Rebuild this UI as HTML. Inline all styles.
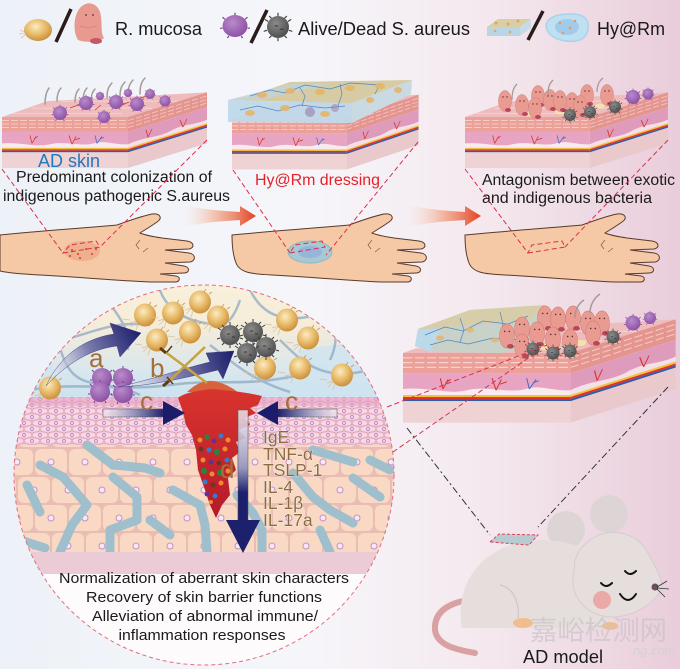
<!DOCTYPE html>
<html><head><meta charset="utf-8"><style>
html,body{margin:0;padding:0;background:#fff;}
svg{display:block;font-family:"Liberation Sans","Noto Sans CJK SC",sans-serif;}
</style></head><body>
<svg width="680" height="669" viewBox="0 0 680 669" xmlns="http://www.w3.org/2000/svg">
<defs>
<linearGradient id="bg" x1="0" y1="0" x2="1" y2="0">
<stop offset="0" stop-color="#edf2f8"/><stop offset="0.45" stop-color="#f6f6fa"/><stop offset="0.72" stop-color="#f4e8ee"/><stop offset="1" stop-color="#e9cdda"/></linearGradient>
<radialGradient id="gold" cx="0.42" cy="0.35" r="0.7"><stop offset="0" stop-color="#fcebc0"/><stop offset="0.55" stop-color="#e6b865"/><stop offset="1" stop-color="#c58837"/></radialGradient>
<radialGradient id="purp" cx="0.4" cy="0.35" r="0.7"><stop offset="0" stop-color="#b98bcb"/><stop offset="1" stop-color="#8a4ea2"/></radialGradient>
<radialGradient id="grayg" cx="0.4" cy="0.35" r="0.7"><stop offset="0" stop-color="#8c8c8c"/><stop offset="1" stop-color="#4a4a4a"/></radialGradient>
<linearGradient id="redArr" x1="0" y1="0" x2="1" y2="0"><stop offset="0" stop-color="#f8d9cc" stop-opacity="0"/><stop offset="0.5" stop-color="#f09a78" stop-opacity="0.7"/><stop offset="1" stop-color="#e2401f"/></linearGradient>
<linearGradient id="navL" x1="0" y1="0" x2="1" y2="0"><stop offset="0" stop-color="#f4f0f6" stop-opacity="0.7"/><stop offset="0.55" stop-color="#8a8ab4"/><stop offset="1" stop-color="#1b1d6a"/></linearGradient>
<linearGradient id="navR" x1="1" y1="0" x2="0" y2="0"><stop offset="0" stop-color="#f4f0f6" stop-opacity="0.7"/><stop offset="0.55" stop-color="#8a8ab4"/><stop offset="1" stop-color="#1b1d6a"/></linearGradient>
<linearGradient id="navV" gradientUnits="userSpaceOnUse" x1="0" y1="410" x2="0" y2="525"><stop offset="0" stop-color="#f1eef4" stop-opacity="0.8"/><stop offset="0.5" stop-color="#9a9abf"/><stop offset="0.72" stop-color="#1d206c"/><stop offset="1" stop-color="#1d206c"/></linearGradient>
<linearGradient id="gA" gradientUnits="userSpaceOnUse" x1="46" y1="386" x2="141" y2="333"><stop offset="0" stop-color="#ffffff" stop-opacity="0.3"/><stop offset="0.5" stop-color="#7c7caf"/><stop offset="1" stop-color="#1b1d6a"/></linearGradient>
<linearGradient id="gB" gradientUnits="userSpaceOnUse" x1="118" y1="387" x2="234" y2="351"><stop offset="0" stop-color="#ffffff" stop-opacity="0.3"/><stop offset="0.5" stop-color="#7c7caf"/><stop offset="1" stop-color="#1b1d6a"/></linearGradient>
<linearGradient id="cTop" gradientUnits="userSpaceOnUse" x1="0" y1="285" x2="0" y2="400"><stop offset="0" stop-color="#f9f0dc"/><stop offset="0.35" stop-color="#f5ecd9"/><stop offset="0.75" stop-color="#d9e7ee"/><stop offset="1" stop-color="#cbe1ef"/></linearGradient>
<linearGradient id="wound" x1="0" y1="0" x2="0" y2="1"><stop offset="0" stop-color="#d8342e"/><stop offset="1" stop-color="#b51a2a"/></linearGradient>
<pattern id="epi" width="16" height="12" patternUnits="userSpaceOnUse">
<rect width="16" height="12" fill="#e6afc4"/>
<ellipse cx="8" cy="3" rx="7.3" ry="2.7" fill="#f7d9e4"/>
<ellipse cx="0" cy="9" rx="7.3" ry="2.7" fill="#f7d9e4"/>
<ellipse cx="16" cy="9" rx="7.3" ry="2.7" fill="#f7d9e4"/>
<circle cx="8" cy="3" r="1.5" fill="none" stroke="#ad78bf" stroke-width="0.7"/>
<circle cx="0" cy="9" r="1.5" fill="none" stroke="#ad78bf" stroke-width="0.7"/>
<circle cx="16" cy="9" r="1.5" fill="none" stroke="#ad78bf" stroke-width="0.7"/>
</pattern>
<pattern id="big" width="34" height="56" patternUnits="userSpaceOnUse">
<rect width="34" height="56" fill="#e9bdb3"/>
<rect x="1" y="1" width="32" height="26" rx="6" fill="#f9d8c4"/>
<rect x="-16" y="29" width="32" height="26" rx="6" fill="#f9d8c4"/>
<rect x="18" y="29" width="32" height="26" rx="6" fill="#f9d8c4"/>
<circle cx="17" cy="14" r="3" fill="#f7e8f2" stroke="#c38fc9" stroke-width="1"/>
<circle cx="0" cy="42" r="3" fill="#f7e8f2" stroke="#c38fc9" stroke-width="1"/>
<circle cx="34" cy="42" r="3" fill="#f7e8f2" stroke="#c38fc9" stroke-width="1"/>
</pattern>
<clipPath id="circ"><circle cx="204" cy="475" r="190"/></clipPath>

<g id="blk">
<polygon points="0,0 126,0 205,-28 45,-18" fill="#efbcbe"/>
<path d="M10,-4H120M30,-10H150M60,-18H180" stroke="#f6d3d3" stroke-width="1"/>
<rect x="0" y="0" width="126" height="58" fill="#f1d8d9"/>
<rect x="0" y="0" width="126" height="17" fill="#eba099"/>
<path d="M0,4H126M0,8H126M0,12H126" stroke="#f8d2cb" stroke-width="1" stroke-dasharray="7 2"/>
<rect x="0" y="17" width="126" height="19" fill="#f8ebef"/>
<path d="M0,17H126V31C112,32 104,26 92,30C80,34 62,27 48,31C34,35 18,28 0,30Z" fill="#e7a5c3"/>
<path d="M30,30l-2,-9m2,9l4,-8m-2,3l4,-3M70,31l-3,-10m3,10l4,-9m-1,4l5,-2" stroke="#d8342a" stroke-width="0.8" fill="none"/>
<path d="M95,30l-2,-9m2,9l5,-8m-2,3l4,-2" stroke="#4a6bc2" stroke-width="0.8" fill="none"/>
<rect y="35" width="126" height="1.7" fill="#f4c13f"/>
<rect y="36.7" width="126" height="1.7" fill="#e32f2a"/>
<rect y="38.4" width="126" height="1.7" fill="#2a5dab"/>
<rect y="40.1" width="126" height="17.9" fill="#efd2d3"/>
<g transform="translate(126,0) skewY(-19.5)">
<rect x="0" y="0" width="79" height="58" fill="#e9c9cb"/>
<rect x="0" y="0" width="79" height="17" fill="#e5958f"/>
<path d="M0,4H79M0,8H79M0,12H79" stroke="#f3c6c0" stroke-width="1" stroke-dasharray="6 2"/>
<rect x="0" y="17" width="79" height="19" fill="#f3e1e7"/>
<path d="M0,17H79V31C66,33 55,27 42,31C30,34 14,28 0,31Z" fill="#df9bbb"/>
<path d="M20,30l-2,-9m2,9l4,-8M55,31l-3,-9m3,9l4,-8" stroke="#d8342a" stroke-width="0.8" fill="none"/>
<rect y="35" width="79" height="1.7" fill="#f4c13f"/>
<rect y="36.7" width="79" height="1.7" fill="#e32f2a"/>
<rect y="38.4" width="79" height="1.7" fill="#2a5dab"/>
</g>
</g>

<g id="fig"><ellipse cx="0" cy="0" rx="6.5" ry="10.5" fill="#ea9b91" stroke="#cf7f78" stroke-width="0.5"/><circle cx="-2" cy="-4" r="0.7" fill="#5a2f2f"/><circle cx="2" cy="-4" r="0.7" fill="#5a2f2f"/><ellipse cx="3" cy="9" rx="3" ry="2" fill="#b8475a"/></g>
<g id="gb"><path d="M-9,6l-6,2m6,-1l-5,5m7,-3l-2,6m-6,-10l-7,-1" stroke="#d6c09a" stroke-width="0.7" fill="none"/><ellipse cx="0" cy="0" rx="11" ry="11.5" fill="url(#gold)"/><path d="M4,-10l2,-3m3,5l3,-2" stroke="#c89a4a" stroke-width="0.8"/></g>
<g id="gr"><circle r="10" fill="url(#grayg)"/><path d="M0,-10v-3M9,-5l3,-2M10,3l3,1M-9,-5l-3,-2M-10,3l-3,1M0,10v3M6,8l2,2M-6,8l-2,2M-6,-8l-2,-2M6,-8l2,-2" stroke="#3a3a3a" stroke-width="1"/><path d="M-3,-1h3M2,2h3" stroke="#222" stroke-width="0.8"/></g>
<g id="pu"><circle r="10" fill="url(#purp)"/><path d="M0,-10v-2M8,-6l2,-2M-8,-6l-2,-2M10,2h2M-10,2h-2M5,9l1,2M-5,9l-1,2" stroke="#7a3f90" stroke-width="1"/></g>
</defs>

<rect width="680" height="669" fill="url(#bg)"/>

<!-- LEGEND -->
<path d="M25,32l-5,-2m5,3l-6,1m6,1l-4,3" stroke="#d8c6a8" stroke-width="0.8"/>
<ellipse cx="38" cy="30" rx="14" ry="11" fill="url(#gold)"/>
<line x1="56" y1="42" x2="71" y2="9" stroke="#2b1b1b" stroke-width="3.5"/>
<path d="M78,40C72,30 74,12 82,6C88,1 97,3 100,12C103,22 100,32 104,38C100,42 85,43 78,40Z" fill="#e89a90"/>
<ellipse cx="96" cy="41" rx="6" ry="3" fill="#c4586a"/>
<circle cx="86" cy="15" r="0.9" fill="#5a3030"/><circle cx="93" cy="15" r="0.9" fill="#5a3030"/>
<path d="M80,26 q8,3 17,0" stroke="#c7776e" stroke-width="0.8" fill="none" stroke-dasharray="1.5 1"/>
<text x="115" y="35" font-size="18" fill="#1a1a1a" textLength="87" lengthAdjust="spacingAndGlyphs">R. mucosa</text>
<use href="#pu" transform="translate(235,26) scale(1.25,1.1)"/>
<line x1="251" y1="43" x2="267" y2="10" stroke="#2b1b1b" stroke-width="3.5"/>
<use href="#gr" transform="translate(278,27) scale(1.1)"/>
<text x="298" y="35" font-size="18" fill="#1a1a1a" textLength="172" lengthAdjust="spacingAndGlyphs">Alive/Dead S. aureus</text>
<polygon points="487,27 520,27 531,19 498,19" fill="#d9cfa6"/>
<polygon points="487,27 520,27 520,36 487,36" fill="#b9d6e6"/>
<polygon points="520,27 531,19 531,28 520,36" fill="#c7dbe6"/>
<circle cx="496" cy="23" r="1.5" fill="#e6a55a"/><circle cx="508" cy="24" r="1.5" fill="#e6a55a"/><circle cx="518" cy="21" r="1.5" fill="#e6a55a"/><circle cx="495" cy="31" r="1.3" fill="#e6a55a"/><circle cx="510" cy="32" r="1.3" fill="#e6a55a"/>
<line x1="528" y1="40" x2="543" y2="11" stroke="#2b1b1b" stroke-width="3.5"/>
<path d="M546,26C547,15 565,12 580,15C591,18 591,35 580,40C565,44 547,38 546,26Z" fill="#bfe0f1" stroke="#a9d3ea" stroke-width="1.5"/>
<ellipse cx="567" cy="27" rx="12" ry="8" fill="#8fbde6" opacity="0.6"/>
<circle cx="560" cy="23" r="1.2" fill="#e6955a"/><circle cx="570" cy="28" r="1.2" fill="#e6955a"/><circle cx="575" cy="21" r="1.2" fill="#e6955a"/><circle cx="563" cy="33" r="1.2" fill="#e6955a"/>
<text x="597" y="35" font-size="18" fill="#1a1a1a" textLength="68" lengthAdjust="spacingAndGlyphs">Hy@Rm</text>

<!-- BLOCK 1 -->
<use href="#blk" transform="translate(2,117) scale(1,0.88)"/>
<g stroke="#a99995" stroke-width="1.5" fill="none" stroke-linecap="round">
<path d="M45,104C45,97 46,92 49,88"/><path d="M57,101C57,95 58,91 61,88"/><path d="M75,102C75,96 76,92 79,89"/><path d="M83,101C83,95 84,91 87,88"/><path d="M91,101C91,96 92,92 95,89"/><path d="M107,98C107,91 108,87 112,83"/><path d="M120,97C120,90 121,86 125,82"/><path d="M128,96C128,89 129,84 133,80"/><path d="M140,94C140,87 141,82 145,78"/>
</g>
<g stroke="#d8342a" stroke-width="0.7" fill="none"><path d="M70,108l8,-3l6,2M120,106l9,-4M140,98l8,-2M95,110l6,-5"/></g>
<use href="#pu" transform="translate(60,113) scale(0.7)"/>
<use href="#pu" transform="translate(86,103) scale(0.7)"/>
<use href="#pu" transform="translate(104,117) scale(0.6)"/>
<use href="#pu" transform="translate(116,102) scale(0.7)"/>
<use href="#pu" transform="translate(137,104) scale(0.7)"/>
<use href="#pu" transform="translate(150,94) scale(0.5)"/>
<use href="#pu" transform="translate(165,101) scale(0.55)"/>
<use href="#pu" transform="translate(128,93) scale(0.4)"/>
<use href="#pu" transform="translate(100,96) scale(0.4)"/>

<!-- BLOCK 2 -->
<use href="#blk" transform="translate(232,119) scale(0.91,0.87)"/>
<polygon points="228,100 247,97 290,82 412,80 352,103" fill="#d6cba3"/>
<polygon points="228,100 290,84 330,84 260,100" fill="#c4d3d6" opacity="0.8"/>
<polygon points="228,100 352,103 352,123 228,122" fill="#bfd9ea" opacity="0.95"/>
<polygon points="352,103 412,80 411,94 352,123" fill="#c9dae2"/>
<g stroke="#4f86c0" stroke-width="0.7" fill="none"><path d="M250,96l20,-6l15,3l20,-8l25,4l20,-6l30,2M240,110l18,-4l20,5l22,-6l25,3l20,-2M300,88l5,8l-3,10M340,84l2,10l-4,12M380,84l-5,10"/></g>
<g fill="#e6b56a" opacity="0.9"><ellipse cx="262" cy="95" rx="5" ry="3"/><ellipse cx="290" cy="91" rx="5" ry="3"/><ellipse cx="320" cy="92" rx="5" ry="3"/><ellipse cx="350" cy="88" rx="5" ry="3"/><ellipse cx="380" cy="86" rx="5" ry="3"/><ellipse cx="398" cy="90" rx="4" ry="3"/><ellipse cx="250" cy="113" rx="5" ry="3"/><ellipse cx="285" cy="108" rx="5" ry="3"/><ellipse cx="325" cy="114" rx="5" ry="3"/><ellipse cx="370" cy="100" rx="4" ry="3"/></g>
<circle cx="310" cy="112" r="5" fill="#9b7aa8" opacity="0.6"/><circle cx="335" cy="108" r="4" fill="#9b7aa8" opacity="0.5"/>

<!-- BLOCK 3 -->
<use href="#blk" transform="translate(465,117) scale(0.99,0.88)"/>
<g fill="#f3e3a8"><ellipse cx="530" cy="114" rx="5" ry="2.5"/><ellipse cx="560" cy="112" rx="5" ry="2.5"/><ellipse cx="600" cy="106" rx="5" ry="2.5"/></g>
<use href="#fig" transform="translate(505,101)"/>
<use href="#fig" transform="translate(538,96)"/>
<use href="#fig" transform="translate(550,100)"/>
<use href="#fig" transform="translate(572,103)"/>
<use href="#fig" transform="translate(587,95)"/>
<use href="#fig" transform="translate(607,95)"/>
<use href="#fig" transform="translate(522,105)"/>
<use href="#fig" transform="translate(560,101)"/>
<use href="#fig" transform="translate(535,108)"/>
<use href="#fig" transform="translate(580,106)"/>
<g stroke="#a99995" stroke-width="1.3" fill="none"><path d="M512,100C512,93 513,88 517,84M548,95C548,88 549,84 553,80M597,92C597,85 599,81 603,78"/></g>
<use href="#gr" transform="translate(570,115) scale(0.6)"/>
<use href="#gr" transform="translate(590,112) scale(0.6)"/>
<use href="#gr" transform="translate(615,107) scale(0.6)"/>
<use href="#pu" transform="translate(633,97) scale(0.7)"/>
<use href="#pu" transform="translate(648,94) scale(0.55)"/>

<!-- BLOCK TEXTS -->
<text x="38" y="167" font-size="18" fill="#2179c0" textLength="62" lengthAdjust="spacingAndGlyphs">AD skin</text>
<text x="16" y="182" font-size="15.5" fill="#1a1a1a" textLength="196" lengthAdjust="spacingAndGlyphs">Predominant colonization of</text>
<text x="3" y="201" font-size="15.5" fill="#1a1a1a" textLength="227" lengthAdjust="spacingAndGlyphs">indigenous pathogenic S.aureus</text>
<text x="255" y="185" font-size="15.5" fill="#e62129" textLength="125" lengthAdjust="spacingAndGlyphs">Hy@Rm dressing</text>
<text x="482" y="185" font-size="15.5" fill="#1a1a1a" textLength="193" lengthAdjust="spacingAndGlyphs">Antagonism between exotic</text>
<text x="482" y="203" font-size="15.5" fill="#1a1a1a" textLength="170" lengthAdjust="spacingAndGlyphs">and indigenous bacteria</text>

<!-- RED ARROWS -->
<path d="M183,205C205,210 225,211 240,212L240,206L256,216L240,226L240,220C225,221 205,222 183,227Z" fill="url(#redArr)"/>
<path d="M408,205C430,210 450,211 465,212L465,206L481,216L465,226L465,220C450,221 430,222 408,227Z" fill="url(#redArr)"/>

<!-- HANDS -->
<g stroke="#5a3a2a" stroke-width="1" fill="#f5c9a5">
<path d="M0,2C40,-2 85,-5 117,-8C128,-12 142,-17 152,-19C160,-20 163,-15 157,-11C150,-6 143,-2 140,0C145,2 155,4 162,5L187,8C194,9 195,15 189,16L165,17L189,20C196,21 196,28 190,29L165,30L184,33C190,34 190,40 184,40L160,41L176,43C181,44 180,49 175,49L150,49C120,48 80,44 40,42C20,41 8,40 0,38Z" transform="translate(0,233)"/>
<path d="M0,2C40,-2 85,-5 117,-8C128,-12 142,-17 152,-19C160,-20 163,-15 157,-11C150,-6 143,-2 140,0C145,2 155,4 162,5L187,8C194,9 195,15 189,16L165,17L189,20C196,21 196,28 190,29L165,30L184,33C190,34 190,40 184,40L160,41L176,43C181,44 180,49 175,49L150,49C120,48 80,44 40,42C20,41 8,40 4,30C0,20 0,8 0,2Z" transform="translate(232,233)"/>
<path d="M0,2C40,-2 85,-5 117,-8C128,-12 142,-17 152,-19C160,-20 163,-15 157,-11C150,-6 143,-2 140,0C145,2 155,4 162,5L187,8C194,9 195,15 189,16L165,17L189,20C196,21 196,28 190,29L165,30L184,33C190,34 190,40 184,40L160,41L176,43C181,44 180,49 175,49L150,49C120,48 80,44 40,42C20,41 8,40 4,30C0,20 0,8 0,2Z" transform="translate(465,233)"/>
</g>
<g stroke="#8a5a40" stroke-width="0.7" fill="none"><path d="M140,240l-4,5l3,4M148,248l-5,4M372,240l-4,5l3,4M380,248l-5,4M605,240l-4,5l3,4M613,248l-5,4"/></g>
<ellipse cx="82" cy="251" rx="18" ry="10" fill="#e79a7c" opacity="0.55"/>
<g fill="#e03a2a"><circle cx="72" cy="250" r="1"/><circle cx="78" cy="254" r="1"/><circle cx="86" cy="249" r="1"/><circle cx="92" cy="254" r="1"/><circle cx="80" cy="258" r="1"/><circle cx="96" cy="249" r="1"/><circle cx="70" cy="256" r="1"/></g>
<ellipse cx="310" cy="252" rx="22" ry="11" fill="#9fcad8" stroke="#84b7cc" stroke-width="1" opacity="0.9"/>
<ellipse cx="310" cy="252" rx="12" ry="6" fill="#8fa6df" opacity="0.6"/>

<!-- RED DASHED LINKS -->
<g stroke="#d9304a" stroke-width="1" fill="none" stroke-dasharray="5 3">
<path d="M2,169L63,253M207,140L100,247M63,253L100,247L96,241L70,245Z"/>
<path d="M233,170L290,253M418,142L326,255M290,253L325,247L322,241L295,245Z"/>
<path d="M465,169L528,253M668,140L565,247M528,253L565,247L562,241L532,245Z"/>
</g>

<!-- CIRCLE -->
<g clip-path="url(#circ)">
<rect x="10" y="280" width="390" height="400" fill="#fdfbfc"/>
<rect x="10" y="280" width="390" height="120" fill="url(#cTop)"/>
<path d="M10,300 C40,310 60,340 50,398 L10,398Z" fill="#cfe3f0" opacity="0.8"/>
<path d="M300,350 C330,345 370,340 400,345 L400,398 L290,398Z" fill="#cfe3f0" opacity="0.8"/>
<g stroke="#8ba6bf" stroke-width="2.5" fill="none" opacity="0.7">
<path d="M40,300C60,320 55,350 70,370S110,380 140,395"/>
<path d="M100,288C110,310 130,320 128,350"/>
<path d="M160,290C165,305 180,318 200,322S230,330 240,300"/>
<path d="M20,392C70,380 120,392 170,385S240,388 300,375"/>
<path d="M250,290C260,310 275,320 300,318S340,300 360,310"/>
<path d="M280,340C300,360 320,380 360,372S385,360 400,350"/>
<path d="M60,340C90,335 110,320 150,325"/>
<path d="M210,345C230,360 250,380 290,392"/>
<path d="M330,300C335,320 340,340 330,360"/>
</g>
<rect x="10" y="397" width="390" height="48" fill="url(#epi)"/>
<rect x="10" y="397" width="390" height="9" fill="#e7a0c1" opacity="0.55"/>
<rect x="10" y="445" width="390" height="108" fill="url(#big)"/>
<g stroke="#9fbfcc" stroke-width="9" fill="none" stroke-linejoin="round" stroke-linecap="round">
<path d="M87,445L113,465L145,468L160,473"/>
<path d="M40,465L63,477L87,505L72,525L60,552"/>
<path d="M27,485L40,512"/>
<path d="M113,477L137,497L137,520L110,530L110,552"/>
<path d="M173,490L200,505L205,525L207,552"/>
<path d="M237,495L253,513L262,530L262,552"/>
<path d="M293,473L313,497L330,510L353,523"/>
<path d="M313,450L353,462"/>
<path d="M353,478L380,497"/>
<path d="M320,530L330,552"/>
<path d="M20,540L45,548"/>
<path d="M150,520L170,535"/>
<path d="M370,460L390,470"/>
</g>
<rect x="10" y="552" width="390" height="22" fill="#ebcbd6"/>
<rect x="10" y="574" width="390" height="110" fill="#fdfbfc"/>
<!-- wound -->
<path d="M187,392C195,384 205,380 212,381C222,382 232,387 240,394Z" fill="#d8623c"/>
<path d="M178,398C185,392 200,391 210,389C225,390 245,392 262,396L258,405L250,408L256,413L245,418L250,425L238,430L246,438L236,442L240,452L232,458L236,470L228,478L230,495L222,505L216,518L210,505L205,490L198,470L196,450L192,435L186,425L183,412Z" fill="url(#wound)"/>
<g>
<circle cx="200" cy="440" r="2.5" fill="#f08a30"/><circle cx="207" cy="437" r="2.5" fill="#1f8a3f"/><circle cx="214" cy="441" r="2.5" fill="#6b2f8a"/><circle cx="221" cy="436" r="2.5" fill="#2f7fd0"/><circle cx="228" cy="440" r="2.5" fill="#f08a30"/>
<circle cx="201" cy="449" r="2.5" fill="#6a3a20"/><circle cx="209" cy="450" r="2.5" fill="#2f7fd0"/><circle cx="217" cy="452" r="3" fill="#1f8a3f"/><circle cx="225" cy="449" r="2.5" fill="#f08a30"/>
<circle cx="203" cy="460" r="2.5" fill="#f08a30"/><circle cx="211" cy="462" r="2.5" fill="#6b2f8a"/><circle cx="219" cy="463" r="2.5" fill="#6a3a20"/><circle cx="227" cy="460" r="2.5" fill="#2f7fd0"/>
<circle cx="204" cy="471" r="3" fill="#1f8a3f"/><circle cx="212" cy="474" r="2.5" fill="#f08a30"/><circle cx="220" cy="473" r="3" fill="#1f8a3f"/><circle cx="228" cy="471" r="2.5" fill="#f08a30"/>
<circle cx="205" cy="482" r="2.5" fill="#2f7fd0"/><circle cx="213" cy="485" r="2.5" fill="#6a3a20"/><circle cx="221" cy="483" r="2.5" fill="#f08a30"/>
<circle cx="207" cy="494" r="2.5" fill="#6b2f8a"/><circle cx="215" cy="496" r="2.5" fill="#2f7fd0"/><circle cx="211" cy="502" r="2" fill="#f08a30"/>
</g>
<!-- bacteria -->
<use href="#gb" transform="translate(145,315)"/>
<use href="#gb" transform="translate(173,313)"/>
<use href="#gb" transform="translate(200,302)"/>
<use href="#gb" transform="translate(218,317)"/>
<use href="#gb" transform="translate(157,340)"/>
<use href="#gb" transform="translate(190,332)"/>
<use href="#gb" transform="translate(287,320)"/>
<use href="#gb" transform="translate(308,338)"/>
<use href="#gb" transform="translate(265,368)"/>
<use href="#gb" transform="translate(300,368)"/>
<use href="#gb" transform="translate(342,375)"/>
<use href="#gb" transform="translate(50,388)"/>
<use href="#gr" transform="translate(230,335)"/>
<use href="#gr" transform="translate(253,332)"/>
<use href="#gr" transform="translate(266,347)"/>
<use href="#gr" transform="translate(247,353)"/>
<use href="#pu" transform="translate(102,378)"/>
<use href="#pu" transform="translate(123,378)"/>
<use href="#pu" transform="translate(100,392)"/>
<use href="#pu" transform="translate(123,393)"/>
<!-- arrows -->
<path d="M46,386C62,352 88,338 114,334L110,323L141,333L120,357L117,346C92,349 68,362 46,386Z" fill="url(#gA)" stroke="#2a2c70" stroke-width="0.4"/>
<path d="M118,387C150,380 185,368 210,362L206,353L234,351L223,379L218,370C185,378 150,386 118,387Z" fill="url(#gB)" stroke="#2a2c70" stroke-width="0.4"/>
<line x1="164" y1="351" x2="207" y2="383" stroke="#c9a23f" stroke-width="2.5"/>
<line x1="167" y1="383" x2="205" y2="347" stroke="#c9a23f" stroke-width="2.5"/>
<line x1="160" y1="348" x2="166" y2="353" stroke="#5a3d12" stroke-width="3"/>
<line x1="167" y1="352" x2="172" y2="346" stroke="#5a3d12" stroke-width="1.5"/>
<line x1="163" y1="386" x2="169" y2="381" stroke="#5a3d12" stroke-width="3"/>
<line x1="167" y1="377" x2="173" y2="384" stroke="#5a3d12" stroke-width="1.5"/>
<rect x="103" y="409" width="62" height="8" fill="url(#navL)" stroke="#555" stroke-width="0.5"/>
<polygon points="163,401 185,413 163,425" fill="#1b1d6a"/>
<rect x="277" y="409" width="60" height="8" fill="url(#navR)" stroke="#555" stroke-width="0.5"/>
<polygon points="278,401 257,413 278,425" fill="#1b1d6a"/>
<rect x="238" y="410" width="10" height="112" fill="url(#navV)" stroke="#555" stroke-width="0.5"/>
<polygon points="226,520 260,520 243,553" fill="#1d206c"/>
<g font-size="26" fill="#a3703a">
<text x="89" y="367">a</text><text x="150" y="377">b</text><text x="140" y="410">c</text><text x="285" y="410">c</text><text x="220" y="478">d</text>
</g>
<g font-size="17.5" fill="#8b6b43" stroke="#ffffff" stroke-width="0.6" paint-order="stroke">
<text x="263" y="443">IgE</text>
<text x="263" y="460">TNF-α</text>
<text x="263" y="476">TSLP-1</text>
<text x="263" y="493">IL-4</text>
<text x="263" y="509">IL-1β</text>
<text x="263" y="526">IL-17a</text>
</g>
<g font-size="15" fill="#1a1a1a" text-anchor="middle">
<text x="204" y="583" textLength="290" lengthAdjust="spacingAndGlyphs">Normalization of aberrant skin characters</text>
<text x="204" y="602" textLength="236" lengthAdjust="spacingAndGlyphs">Recovery of skin barrier functions</text>
<text x="205" y="621" textLength="226" lengthAdjust="spacingAndGlyphs">Alleviation of abnormal immune/</text>
<text x="202" y="640" textLength="167" lengthAdjust="spacingAndGlyphs">inflammation responses</text>
</g>
</g>
<circle cx="204" cy="475" r="190" fill="none" stroke="#e06f80" stroke-width="1" stroke-dasharray="4 3"/>

<!-- RIGHT BLOCK -->
<use href="#blk" transform="translate(403,353) scale(1.33,1.2)"/>
<polygon points="415,346 418,329 470,310 545,305 540,346 500,353 430,352" fill="#c9d2c8"/>
<polygon points="418,329 470,310 545,305 530,320 470,325" fill="#d8cda5" opacity="0.9"/>
<polygon points="415,346 418,329 440,330 430,352" fill="#bcd9ea"/>
<g stroke="#4f86c0" stroke-width="0.7" fill="none"><path d="M425,335l20,-8l18,4l20,-10l25,3l20,-8M430,345l18,-5l20,4l25,-6l30,2M460,318l4,12l-4,12M500,312l3,12l-3,14"/></g>
<g fill="#e6b56a" opacity="0.8"><ellipse cx="440" cy="338" rx="4" ry="2.5"/><ellipse cx="470" cy="330" rx="4" ry="2.5"/><ellipse cx="495" cy="340" rx="4" ry="2.5"/><ellipse cx="520" cy="322" rx="4" ry="2.5"/></g>
<g fill="#f3e3a8"><ellipse cx="545" cy="347" rx="6" ry="3"/><ellipse cx="580" cy="343" rx="6" ry="3"/><ellipse cx="600" cy="330" rx="6" ry="3"/></g>
<use href="#fig" transform="translate(545,318) scale(1.15)"/>
<use href="#fig" transform="translate(558,319) scale(1.15)"/>
<use href="#fig" transform="translate(573,318) scale(1.15)"/>
<use href="#fig" transform="translate(588,323) scale(1.15)"/>
<use href="#fig" transform="translate(602,323) scale(1.15)"/>
<use href="#fig" transform="translate(507,336) scale(1.15)"/>
<use href="#fig" transform="translate(522,329) scale(1.15)"/>
<use href="#fig" transform="translate(537,334) scale(1.15)"/>
<use href="#fig" transform="translate(553,339) scale(1.15)"/>
<use href="#fig" transform="translate(570,341) scale(1.15)"/>
<use href="#fig" transform="translate(522,346) scale(1.15)"/>
<use href="#fig" transform="translate(593,333) scale(1.15)"/>
<g stroke="#a99995" stroke-width="1.5" fill="none"><path d="M575,318C575,310 578,304 584,300M590,313C590,305 594,298 600,294"/></g>
<use href="#gr" transform="translate(533,349) scale(0.65)"/>
<use href="#gr" transform="translate(553,353) scale(0.65)"/>
<use href="#gr" transform="translate(570,351) scale(0.65)"/>
<use href="#gr" transform="translate(613,337) scale(0.65)"/>
<use href="#pu" transform="translate(633,323) scale(0.75)"/>
<use href="#pu" transform="translate(650,318) scale(0.6)"/>

<g stroke="#d9304a" stroke-width="1" fill="none" stroke-dasharray="5 3">
<path d="M387,407L547,345M393,452L537,352"/>
</g>

<!-- MOUSE -->
<path d="M468,600C445,604 434,614 435,630C437,646 458,650 475,653" stroke="#d9a1a1" stroke-width="6" fill="none" stroke-linecap="round"/>
<circle cx="566" cy="530" r="19" fill="#ddd5d5"/>
<circle cx="609" cy="514" r="19" fill="#ddd5d5"/>
<path d="M462,628C455,590 475,548 530,541C575,536 612,555 618,595L612,628Z" fill="#e6dedd"/>
<path d="M500,585C515,588 520,605 518,622" stroke="#cfc6c6" stroke-width="1.2" fill="none"/>
<path d="M575,560C585,530 625,522 645,548C652,560 660,575 662,585C660,598 640,615 615,617C590,618 572,600 573,580Z" fill="#e6dedd" stroke="#d6cccc" stroke-width="1"/>
<path d="M601,583q5,6 11,0M625,571q5,6 11,0M620,594q8,12 16,0" stroke="#111" stroke-width="2" fill="none" stroke-linecap="round"/>
<circle cx="602" cy="600" r="9" fill="#eaa9a7"/>
<circle cx="655" cy="587" r="3.5" fill="#6b4f60"/>
<path d="M657,587l10,-6M657,588l12,1M657,589l8,8" stroke="#333" stroke-width="0.8"/>
<ellipse cx="523" cy="623" rx="10" ry="5" fill="#f0be8e"/>
<ellipse cx="610" cy="626" rx="8" ry="4" fill="#f0be8e"/>
<polygon points="490,542 499,534 538,535 529,545" fill="#b7cbd0" stroke="#e0405a" stroke-width="1" stroke-dasharray="3 2"/>
<g stroke="#333" stroke-width="1" fill="none" stroke-dasharray="7 3 2 3">
<path d="M407,428L490,535M668,387L538,527"/>
</g>
<text x="530" y="640" font-size="27" fill="#c9c4c7" opacity="0.7" font-family="'Noto Sans CJK SC',sans-serif" textLength="137" lengthAdjust="spacingAndGlyphs">嘉峪检测网</text>
<text x="633" y="655" font-size="13" font-style="italic" fill="#d6d0d3">ng.com</text>
<text x="523" y="663" font-size="18" fill="#1a1a1a" textLength="80" lengthAdjust="spacingAndGlyphs">AD model</text>
</svg>
</body></html>
